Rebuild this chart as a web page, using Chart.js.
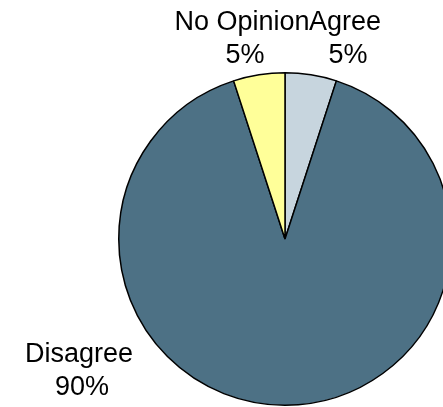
<!DOCTYPE html>
<html lang="en">
<head>
  <meta charset="UTF-8">
  <title>Opinion Pie</title>
  <script src="https://cdn.jsdelivr.net/npm/chart.js"></script>
  <style>
    html, body {
      margin: 0;
      padding: 0;
      background: #ffffff;
      overflow: hidden;
      width: 443px;
      height: 407px;
    }
    canvas {
      display: block;
    }
  </style>
</head>
<body>

<canvas id="pieChart" width="460" height="407"></canvas>

<script>
  const categories = ['Agree', 'Disagree', 'No Opinion'];
  const shares = [5, 90, 5];
  const sliceColors = ['#C7D5DE', '#4D7185', '#FFFF99'];

  // where each two-line label sits (centre x, first baseline y)
  const labelSpots = [
    { x: 345, y: 30 },
    { x: 79, y: 362 },
    { x: 242, y: 30 }
  ];

  const pieLabels = {
    id: 'pieLabels',
    afterDraw(chart) {
      const ctx = chart.ctx;
      const total = shares.reduce((a, b) => a + b, 0);
      ctx.save();
      ctx.fillStyle = '#000000';
      ctx.font = '27px "Liberation Sans", Arial, sans-serif';
      ctx.textAlign = 'center';
      ctx.textBaseline = 'alphabetic';
      categories.forEach((name, i) => {
        const spot = labelSpots[i];
        const pct = Math.round(shares[i] / total * 100) + '%';
        ctx.fillText(name, spot.x, spot.y);
        ctx.fillText(pct, spot.x + 3, spot.y + 33);
      });
      ctx.restore();
    }
  };

  const ctx = document.getElementById('pieChart').getContext('2d');
  new Chart(ctx, {
    type: 'pie',
    data: {
      labels: categories,
      datasets: [{
        data: shares,
        backgroundColor: sliceColors,
        borderColor: '#000000',
        borderWidth: 1.5
      }]
    },
    options: {
      responsive: false,
      animation: false,
      layout: {
        padding: { left: 118, top: 72, right: 8, bottom: 1 }
      },
      plugins: {
        legend: { display: false },
        tooltip: { enabled: false }
      }
    },
    plugins: [pieLabels]
  });
</script>

</body>
</html>
